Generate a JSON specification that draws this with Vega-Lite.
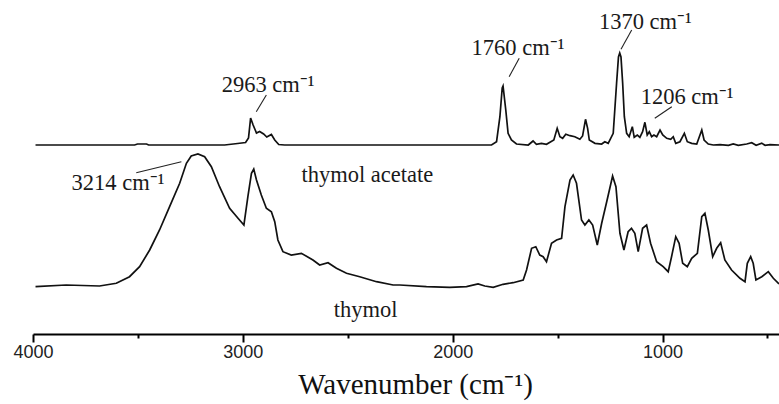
{
  "$schema": "https://vega.github.io/schema/vega-lite/v6.json",
  "width": 746,
  "height": 334,
  "autosize": "none",
  "padding": {"left": 33, "top": 0, "right": 0, "bottom": 70},
  "background": "white",
  "config": {"view": {"stroke": null}},
  "datasets": {
    "spectra": [
      {"wn": 3988, "a": 189, "sample": "thymol acetate"},
      {"wn": 3516, "a": 189, "sample": "thymol acetate"},
      {"wn": 3502, "a": 190, "sample": "thymol acetate"},
      {"wn": 3459, "a": 190, "sample": "thymol acetate"},
      {"wn": 3449, "a": 189, "sample": "thymol acetate"},
      {"wn": 3087, "a": 189, "sample": "thymol acetate"},
      {"wn": 3025, "a": 190.5, "sample": "thymol acetate"},
      {"wn": 2987, "a": 191.5, "sample": "thymol acetate"},
      {"wn": 2973, "a": 196, "sample": "thymol acetate"},
      {"wn": 2963, "a": 216, "sample": "thymol acetate"},
      {"wn": 2951, "a": 209, "sample": "thymol acetate"},
      {"wn": 2935, "a": 201, "sample": "thymol acetate"},
      {"wn": 2920, "a": 202.5, "sample": "thymol acetate"},
      {"wn": 2901, "a": 200, "sample": "thymol acetate"},
      {"wn": 2886, "a": 197, "sample": "thymol acetate"},
      {"wn": 2864, "a": 199.5, "sample": "thymol acetate"},
      {"wn": 2848, "a": 194, "sample": "thymol acetate"},
      {"wn": 2829, "a": 189.5, "sample": "thymol acetate"},
      {"wn": 2801, "a": 189, "sample": "thymol acetate"},
      {"wn": 1815, "a": 189, "sample": "thymol acetate"},
      {"wn": 1791, "a": 192.3, "sample": "thymol acetate"},
      {"wn": 1775, "a": 217.3, "sample": "thymol acetate"},
      {"wn": 1764, "a": 246, "sample": "thymol acetate"},
      {"wn": 1760, "a": 248, "sample": "thymol acetate"},
      {"wn": 1747, "a": 224, "sample": "thymol acetate"},
      {"wn": 1736, "a": 200.7, "sample": "thymol acetate"},
      {"wn": 1720, "a": 194, "sample": "thymol acetate"},
      {"wn": 1696, "a": 190, "sample": "thymol acetate"},
      {"wn": 1640, "a": 189, "sample": "thymol acetate"},
      {"wn": 1617, "a": 193, "sample": "thymol acetate"},
      {"wn": 1601, "a": 189.7, "sample": "thymol acetate"},
      {"wn": 1577, "a": 190.7, "sample": "thymol acetate"},
      {"wn": 1553, "a": 189.7, "sample": "thymol acetate"},
      {"wn": 1518, "a": 194, "sample": "thymol acetate"},
      {"wn": 1502, "a": 205.7, "sample": "thymol acetate"},
      {"wn": 1489, "a": 197.3, "sample": "thymol acetate"},
      {"wn": 1476, "a": 195.7, "sample": "thymol acetate"},
      {"wn": 1461, "a": 199.7, "sample": "thymol acetate"},
      {"wn": 1441, "a": 198.3, "sample": "thymol acetate"},
      {"wn": 1418, "a": 197.3, "sample": "thymol acetate"},
      {"wn": 1394, "a": 194.7, "sample": "thymol acetate"},
      {"wn": 1381, "a": 198, "sample": "thymol acetate"},
      {"wn": 1367, "a": 214.7, "sample": "thymol acetate"},
      {"wn": 1357, "a": 205.7, "sample": "thymol acetate"},
      {"wn": 1349, "a": 194, "sample": "thymol acetate"},
      {"wn": 1322, "a": 190.7, "sample": "thymol acetate"},
      {"wn": 1290, "a": 190, "sample": "thymol acetate"},
      {"wn": 1275, "a": 192.3, "sample": "thymol acetate"},
      {"wn": 1259, "a": 190.7, "sample": "thymol acetate"},
      {"wn": 1235, "a": 200.7, "sample": "thymol acetate"},
      {"wn": 1219, "a": 250.7, "sample": "thymol acetate"},
      {"wn": 1210, "a": 277, "sample": "thymol acetate"},
      {"wn": 1204, "a": 281, "sample": "thymol acetate"},
      {"wn": 1198, "a": 277, "sample": "thymol acetate"},
      {"wn": 1190, "a": 250.7, "sample": "thymol acetate"},
      {"wn": 1182, "a": 217.3, "sample": "thymol acetate"},
      {"wn": 1171, "a": 200.7, "sample": "thymol acetate"},
      {"wn": 1159, "a": 197.3, "sample": "thymol acetate"},
      {"wn": 1144, "a": 207.3, "sample": "thymol acetate"},
      {"wn": 1135, "a": 196.7, "sample": "thymol acetate"},
      {"wn": 1120, "a": 199, "sample": "thymol acetate"},
      {"wn": 1108, "a": 196.7, "sample": "thymol acetate"},
      {"wn": 1095, "a": 202.3, "sample": "thymol acetate"},
      {"wn": 1084, "a": 211.7, "sample": "thymol acetate"},
      {"wn": 1073, "a": 199, "sample": "thymol acetate"},
      {"wn": 1063, "a": 202.3, "sample": "thymol acetate"},
      {"wn": 1052, "a": 197.3, "sample": "thymol acetate"},
      {"wn": 1041, "a": 199, "sample": "thymol acetate"},
      {"wn": 1028, "a": 197.3, "sample": "thymol acetate"},
      {"wn": 1012, "a": 204, "sample": "thymol acetate"},
      {"wn": 999, "a": 199, "sample": "thymol acetate"},
      {"wn": 980, "a": 195.7, "sample": "thymol acetate"},
      {"wn": 961, "a": 194.7, "sample": "thymol acetate"},
      {"wn": 949, "a": 197.3, "sample": "thymol acetate"},
      {"wn": 937, "a": 190.7, "sample": "thymol acetate"},
      {"wn": 917, "a": 192.3, "sample": "thymol acetate"},
      {"wn": 896, "a": 200.7, "sample": "thymol acetate"},
      {"wn": 882, "a": 192.3, "sample": "thymol acetate"},
      {"wn": 861, "a": 190.7, "sample": "thymol acetate"},
      {"wn": 837, "a": 190, "sample": "thymol acetate"},
      {"wn": 813, "a": 204, "sample": "thymol acetate"},
      {"wn": 802, "a": 194, "sample": "thymol acetate"},
      {"wn": 782, "a": 190, "sample": "thymol acetate"},
      {"wn": 758, "a": 189, "sample": "thymol acetate"},
      {"wn": 726, "a": 189.3, "sample": "thymol acetate"},
      {"wn": 686, "a": 188.7, "sample": "thymol acetate"},
      {"wn": 663, "a": 190, "sample": "thymol acetate"},
      {"wn": 639, "a": 188.7, "sample": "thymol acetate"},
      {"wn": 599, "a": 190, "sample": "thymol acetate"},
      {"wn": 575, "a": 191.3, "sample": "thymol acetate"},
      {"wn": 554, "a": 188.7, "sample": "thymol acetate"},
      {"wn": 527, "a": 190.7, "sample": "thymol acetate"},
      {"wn": 511, "a": 188.7, "sample": "thymol acetate"},
      {"wn": 488, "a": 189.3, "sample": "thymol acetate"},
      {"wn": 445, "a": 189, "sample": "thymol acetate"},
      {"wn": 3988, "a": 47.3, "sample": "thymol"},
      {"wn": 3842, "a": 49, "sample": "thymol"},
      {"wn": 3683, "a": 48, "sample": "thymol"},
      {"wn": 3603, "a": 50.7, "sample": "thymol"},
      {"wn": 3540, "a": 57.3, "sample": "thymol"},
      {"wn": 3492, "a": 67.3, "sample": "thymol"},
      {"wn": 3444, "a": 84, "sample": "thymol"},
      {"wn": 3397, "a": 104, "sample": "thymol"},
      {"wn": 3349, "a": 127.3, "sample": "thymol"},
      {"wn": 3301, "a": 150.7, "sample": "thymol"},
      {"wn": 3269, "a": 170.7, "sample": "thymol"},
      {"wn": 3246, "a": 178, "sample": "thymol"},
      {"wn": 3214, "a": 180, "sample": "thymol"},
      {"wn": 3182, "a": 177.3, "sample": "thymol"},
      {"wn": 3150, "a": 167.3, "sample": "thymol"},
      {"wn": 3111, "a": 147.3, "sample": "thymol"},
      {"wn": 3063, "a": 125.7, "sample": "thymol"},
      {"wn": 3023, "a": 115.7, "sample": "thymol"},
      {"wn": 2995, "a": 109, "sample": "thymol"},
      {"wn": 2976, "a": 137.3, "sample": "thymol"},
      {"wn": 2959, "a": 160.7, "sample": "thymol"},
      {"wn": 2948, "a": 165, "sample": "thymol"},
      {"wn": 2935, "a": 154, "sample": "thymol"},
      {"wn": 2912, "a": 139, "sample": "thymol"},
      {"wn": 2888, "a": 125.7, "sample": "thymol"},
      {"wn": 2864, "a": 122.3, "sample": "thymol"},
      {"wn": 2848, "a": 112.3, "sample": "thymol"},
      {"wn": 2833, "a": 94, "sample": "thymol"},
      {"wn": 2809, "a": 82.3, "sample": "thymol"},
      {"wn": 2769, "a": 79, "sample": "thymol"},
      {"wn": 2721, "a": 80.7, "sample": "thymol"},
      {"wn": 2666, "a": 74, "sample": "thymol"},
      {"wn": 2634, "a": 69, "sample": "thymol"},
      {"wn": 2594, "a": 71.3, "sample": "thymol"},
      {"wn": 2554, "a": 65.7, "sample": "thymol"},
      {"wn": 2506, "a": 60.7, "sample": "thymol"},
      {"wn": 2443, "a": 57.3, "sample": "thymol"},
      {"wn": 2363, "a": 52.3, "sample": "thymol"},
      {"wn": 2284, "a": 49, "sample": "thymol"},
      {"wn": 2252, "a": 49, "sample": "thymol"},
      {"wn": 2125, "a": 47.3, "sample": "thymol"},
      {"wn": 2014, "a": 46.7, "sample": "thymol"},
      {"wn": 1934, "a": 47.3, "sample": "thymol"},
      {"wn": 1879, "a": 50, "sample": "thymol"},
      {"wn": 1847, "a": 48, "sample": "thymol"},
      {"wn": 1807, "a": 46.7, "sample": "thymol"},
      {"wn": 1760, "a": 49.7, "sample": "thymol"},
      {"wn": 1712, "a": 51.3, "sample": "thymol"},
      {"wn": 1664, "a": 54, "sample": "thymol"},
      {"wn": 1648, "a": 64, "sample": "thymol"},
      {"wn": 1624, "a": 85.7, "sample": "thymol"},
      {"wn": 1604, "a": 87.3, "sample": "thymol"},
      {"wn": 1585, "a": 79, "sample": "thymol"},
      {"wn": 1569, "a": 77.3, "sample": "thymol"},
      {"wn": 1553, "a": 72.3, "sample": "thymol"},
      {"wn": 1529, "a": 90.7, "sample": "thymol"},
      {"wn": 1505, "a": 94, "sample": "thymol"},
      {"wn": 1481, "a": 95.7, "sample": "thymol"},
      {"wn": 1465, "a": 127.3, "sample": "thymol"},
      {"wn": 1441, "a": 154, "sample": "thymol"},
      {"wn": 1426, "a": 159, "sample": "thymol"},
      {"wn": 1410, "a": 150.7, "sample": "thymol"},
      {"wn": 1386, "a": 114, "sample": "thymol"},
      {"wn": 1370, "a": 109, "sample": "thymol"},
      {"wn": 1351, "a": 114, "sample": "thymol"},
      {"wn": 1333, "a": 109, "sample": "thymol"},
      {"wn": 1311, "a": 89, "sample": "thymol"},
      {"wn": 1290, "a": 110.7, "sample": "thymol"},
      {"wn": 1266, "a": 132.3, "sample": "thymol"},
      {"wn": 1238, "a": 158, "sample": "thymol"},
      {"wn": 1222, "a": 147.3, "sample": "thymol"},
      {"wn": 1203, "a": 100.7, "sample": "thymol"},
      {"wn": 1184, "a": 84, "sample": "thymol"},
      {"wn": 1164, "a": 102.3, "sample": "thymol"},
      {"wn": 1148, "a": 105.7, "sample": "thymol"},
      {"wn": 1132, "a": 100.7, "sample": "thymol"},
      {"wn": 1116, "a": 82.3, "sample": "thymol"},
      {"wn": 1095, "a": 105.7, "sample": "thymol"},
      {"wn": 1076, "a": 109, "sample": "thymol"},
      {"wn": 1057, "a": 90.7, "sample": "thymol"},
      {"wn": 1028, "a": 72.3, "sample": "thymol"},
      {"wn": 997, "a": 67.3, "sample": "thymol"},
      {"wn": 973, "a": 62.3, "sample": "thymol"},
      {"wn": 957, "a": 77.3, "sample": "thymol"},
      {"wn": 937, "a": 97.3, "sample": "thymol"},
      {"wn": 921, "a": 90.7, "sample": "thymol"},
      {"wn": 904, "a": 70.7, "sample": "thymol"},
      {"wn": 882, "a": 67.3, "sample": "thymol"},
      {"wn": 861, "a": 75.7, "sample": "thymol"},
      {"wn": 834, "a": 80.7, "sample": "thymol"},
      {"wn": 813, "a": 117.3, "sample": "thymol"},
      {"wn": 798, "a": 120.7, "sample": "thymol"},
      {"wn": 782, "a": 104, "sample": "thymol"},
      {"wn": 761, "a": 77.3, "sample": "thymol"},
      {"wn": 742, "a": 85.7, "sample": "thymol"},
      {"wn": 723, "a": 91.3, "sample": "thymol"},
      {"wn": 703, "a": 74, "sample": "thymol"},
      {"wn": 671, "a": 64, "sample": "thymol"},
      {"wn": 631, "a": 55.7, "sample": "thymol"},
      {"wn": 607, "a": 52.3, "sample": "thymol"},
      {"wn": 596, "a": 70.7, "sample": "thymol"},
      {"wn": 580, "a": 77.3, "sample": "thymol"},
      {"wn": 568, "a": 70.7, "sample": "thymol"},
      {"wn": 555, "a": 54, "sample": "thymol"},
      {"wn": 527, "a": 57.3, "sample": "thymol"},
      {"wn": 496, "a": 62.3, "sample": "thymol"},
      {"wn": 472, "a": 55.7, "sample": "thymol"},
      {"wn": 445, "a": 50, "sample": "thymol"}
    ],
    "labels": [
      {"wn": 3101, "a": 249, "text": "2963 cm⁻¹"},
      {"wn": 3816, "a": 151, "text": "3214 cm⁻¹"},
      {"wn": 1910, "a": 286, "text": "1760 cm⁻¹"},
      {"wn": 1303, "a": 312.3, "text": "1370 cm⁻¹"},
      {"wn": 1104, "a": 237.3, "text": "1206 cm⁻¹"},
      {"wn": 2721, "a": 159, "text": "thymol acetate"},
      {"wn": 2567, "a": 24, "text": "thymol"}
    ],
    "leaders": [
      {"wn": 2888, "wn2": 2936, "a": 239, "a2": 222.3},
      {"wn": 3508, "wn2": 3293, "a": 161.3, "a2": 172.3},
      {"wn": 1683, "wn2": 1731, "a": 275.7, "a2": 257.3},
      {"wn": 1147, "wn2": 1198, "a": 304, "a2": 284.7},
      {"wn": 956, "wn2": 1037, "a": 227.3, "a2": 215.7}
    ]
  },
  "layer": [
    {
      "data": {"name": "spectra"},
      "mark": {"type": "line", "color": "#111111", "strokeWidth": 1.7, "clip": false},
      "encoding": {
        "x": {
          "field": "wn", "type": "quantitative",
          "scale": {"domain": [4000, 445], "nice": false, "zero": false},
          "axis": {
            "values": [4000, 3500, 3000, 2500, 2000, 1500, 1000, 500],
            "labelExpr": "datum.value % 1000 === 0 ? format(datum.value, 'd') : ''",
            "domainColor": "#000000", "domainWidth": 2,
            "tickColor": "#000000", "tickWidth": 2,
            "tickSize": {"condition": {"test": "datum.value % 1000 === 0", "value": 8}, "value": 4},
            "grid": false,
            "labelFont": "Liberation Sans", "labelFontSize": 18, "labelColor": "#222222",
            "labelPadding": 1, "labelFlush": false, "labelOverlap": false,
            "title": "Wavenumber (cm⁻¹)",
            "titleFont": "Liberation Serif", "titleFontSize": 29, "titleFontWeight": "normal",
            "titleColor": "#111111", "titlePadding": 9, "titleX": 382
          }
        },
        "y": {"field": "a", "type": "quantitative", "scale": {"domain": [0, 334], "nice": false}, "axis": null},
        "detail": {"field": "sample"}
      }
    },
    {
      "data": {"name": "leaders"},
      "mark": {"type": "rule", "color": "#222222", "strokeWidth": 1.1},
      "encoding": {
        "x": {"field": "wn", "type": "quantitative"},
        "x2": {"field": "wn2"},
        "y": {"field": "a", "type": "quantitative"},
        "y2": {"field": "a2"}
      }
    },
    {
      "data": {"name": "labels"},
      "mark": {"type": "text", "align": "left", "baseline": "middle", "font": "Liberation Serif", "fontSize": 22.5, "color": "#1a1a1a"},
      "encoding": {
        "x": {"field": "wn", "type": "quantitative"},
        "y": {"field": "a", "type": "quantitative"},
        "text": {"field": "text"}
      }
    }
  ]
}
